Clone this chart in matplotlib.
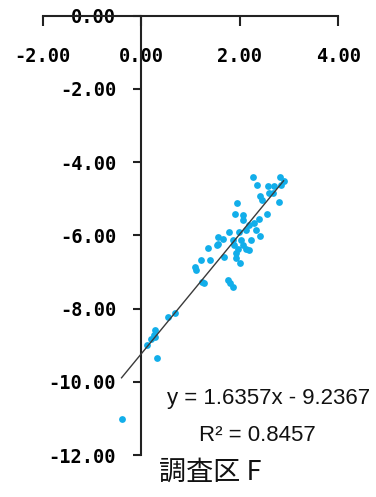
import numpy as np
import matplotlib
matplotlib.use('Agg')
from matplotlib import pyplot as plt

# scatter data
x_vals = [2.26, 2.81, 2.36, 2.57, 2.69, 2.83, 2.89, 2.42, 2.59, 2.67,
          2.46, 2.79, 1.94, 1.90, 2.06, 2.55, 2.06, 2.40, 2.18, 2.28,
          2.32, 2.12, 1.78, 1.98, 1.56, 1.66, 2.42, 1.86, 2.02, 2.22,
          1.88, 2.06, 1.54, 1.96, 2.12, 1.35, 1.56, 1.92, 2.18, 1.92,
          1.68, 1.21, 1.39, 2.00, 1.09, 1.11, 1.27, 1.23, 1.76, 1.80,
          1.86, 0.69, 0.55, 0.28, 0.28, 0.20, 0.12, 0.32, 0.26, -0.40]
y_vals = [-4.41, -4.41, -4.63, -4.65, -4.65, -4.63, -4.52, -4.93, -4.84, -4.84,
          -5.04, -5.09, -5.12, -5.42, -5.45, -5.42, -5.58, -5.55, -5.72, -5.66,
          -5.86, -5.86, -5.91, -5.91, -6.05, -6.10, -6.02, -6.13, -6.13, -6.13,
          -6.26, -6.26, -6.26, -6.37, -6.37, -6.35, -6.24, -6.48, -6.40, -6.62,
          -6.59, -6.68, -6.68, -6.76, -6.87, -6.95, -7.30, -7.28, -7.22, -7.30,
          -7.41, -8.12, -8.23, -8.59, -8.78, -8.83, -8.99, -9.35, -8.72, -11.02]

# trendline
slope = 1.6357
intercept = -9.2367
r2 = 0.8457

x_ticks = [-2, 0, 2, 4]
x_labels = ['-2.00', '0.00', '2.00', '4.00']
y_ticks = [0, -2, -4, -6, -8, -10, -12]
y_labels = ['0.00', '-2.00', '-4.00', '-6.00', '-8.00', '-10.00', '-12.00']

caption = '調査区 F'

fig = plt.figure(figsize=(3.76, 4.97), dpi=100)
ax = fig.add_axes([0.1136, 0.0845, 0.7861, 0.8839])

ax.scatter(x_vals, y_vals, s=24, color='#12aeea', linewidths=0, zorder=3)

tx = np.array([min(x_vals), max(x_vals)])
ax.plot(tx, slope * tx + intercept, color='#3a3a3a', lw=1.0, zorder=4)

ax.set_xlim(-2, 4)
ax.set_ylim(-12, 0)

# excel style: y axis crosses at x=0, x axis along the top (y=0)
ax.spines['left'].set_position(('data', 0))
ax.spines['bottom'].set_visible(False)
ax.spines['right'].set_visible(False)
for s in ['left', 'top']:
    ax.spines[s].set_linewidth(1.5)
    ax.spines[s].set_color('#222222')

tick_font = {'family': 'DejaVu Sans Mono', 'weight': 'bold', 'size': 13.5}

ax.xaxis.tick_top()
ax.set_xticks(x_ticks)
ax.set_xticklabels(x_labels, fontdict=tick_font)
ax.tick_params(axis='x', direction='in', length=7, width=1.5, color='#222222',
               pad=-36.5, labeltop=True, labelbottom=False)

ax.set_yticks(y_ticks)
ax.set_yticklabels(y_labels, fontdict=tick_font)
ax.tick_params(axis='y', direction='out', length=6, width=1.5, color='#222222', pad=12)

ax.set_facecolor('none')

eq_text = 'y = %.4fx - %.4f' % (slope, -intercept)
fig.text(0.713, 0.199, eq_text, ha='center', va='center',
         family='Liberation Sans', fontsize=16, color='#111111')
fig.text(0.684, 0.123, 'R² = %.4f' % r2, ha='center', va='center',
         family='Liberation Sans', fontsize=16, color='#111111')

fig.text(0.558, 0.050, caption, ha='center', va='center',
         family=['Noto Sans CJK JP', 'DejaVu Sans'], fontsize=19.5, color='#111111')

fig.savefig('out.png', dpi=100)
